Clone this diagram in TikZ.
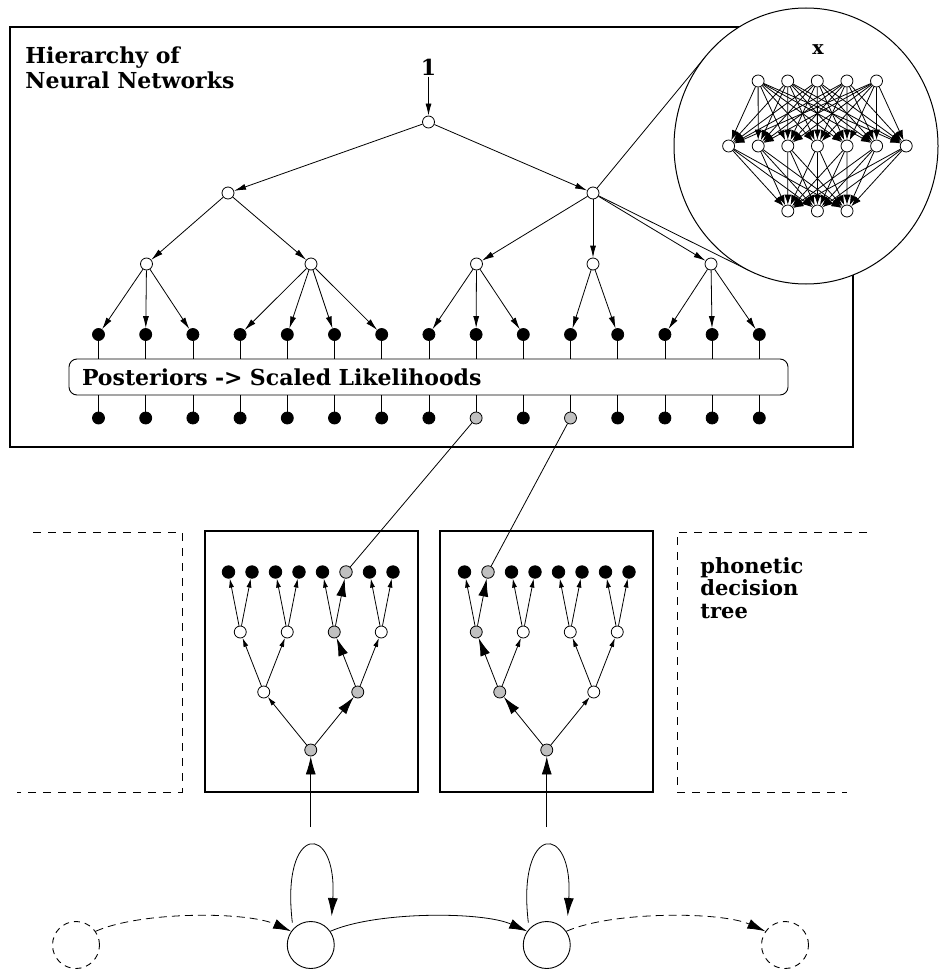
\documentclass[tikz,border=0pt]{standalone}
\usepackage{fontspec}
\setmainfont{DejaVu Serif}
\usetikzlibrary{arrows.meta,calc}
\definecolor{shade}{RGB}{192,192,192}
\begin{document}
\begin{tikzpicture}[x=1pt,y=-1pt,line width=0.8pt,
  every node/.style={font=\bfseries},
  nd/.style={circle,draw,line width=0.8pt,inner sep=0pt,minimum size=12pt,fill=white},
  arr/.style={-{Latex[length=12pt,width=6pt]}},
  sarr/.style={-{Latex[length=9pt,width=5pt]}},
  barr/.style={-{Latex[length=18pt,width=10pt]}},
  narr/.style={-{Latex[length=10pt,width=7pt]}},
  frame/.style={line width=1.1pt},
  dframe/.style={line width=1pt,dash pattern=on 8pt off 7pt},
  big/.style={font=\bfseries\fontsize{22}{25}\selectfont},
  mid/.style={font=\bfseries\fontsize{21}{22.5}\selectfont},
  st/.style={circle,draw,line width=0.9pt,inner sep=0pt,minimum size=47pt},
]
\useasboundingbox (0,0) rectangle (938,971);

% ---------- hierarchy of networks ----------
\draw[frame] (10,27) rectangle (853,447);
\node[big,anchor=north west,align=left,inner sep=0pt] (title) at (25,46)
  {Hierarchy of\\Neural Networks};

\node[big,inner sep=1pt] (one) at (428.5,67) {1};
\node[nd] (r)  at (428.5,122) {};
\node[nd] (a1) at (228,193) {};
\node[nd] (a2) at (593,193) {};
\node[nd] (b1) at (146.5,264) {};
\node[nd] (b2) at (311,264) {};
\node[nd] (b3) at (476.5,264) {};
\node[nd] (b4) at (593,264) {};
\node[nd] (b5) at (711,264) {};

\foreach \i/\c in {0/black,1/black,2/black,3/black,4/black,5/black,6/black,7/black,
                   8/shade,9/black,10/shade,11/black,12/black,13/black,14/black}{
  \node[nd,fill=black] (u\i) at ({98.5+47.2*\i},334.5) {};
  \node[nd,fill=\c]    (d\i) at ({98.5+47.2*\i},418) {};
}

\draw[arr] (one) -- (r);
\draw[arr] (r) -- (a1);
\draw[arr] (r) -- (a2);
\draw[arr] (a1) -- (b1);
\draw[arr] (a1) -- (b2);
\foreach \b in {b3,b4,b5} \draw[arr] (a2) -- (\b);
\foreach \i in {0,1,2} \draw[arr] (b1) -- (u\i);
\foreach \i in {3,4,5,6} \draw[arr] (b2) -- (u\i);
\foreach \i in {7,8,9} \draw[arr] (b3) -- (u\i);
\foreach \i in {10,11} \draw[arr] (b4) -- (u\i);
\foreach \i in {12,13,14} \draw[arr] (b5) -- (u\i);

\node[draw,line width=0.9pt,rounded corners=8pt,text width=693pt,inner xsep=13pt,
      inner ysep=0pt,minimum height=36pt,align=left,big] (post) at (428.5,377)
  {Posteriors -> Scaled Likelihoods};
\foreach \i in {0,...,14}{
  \draw (u\i) -- (u\i |- post.north);
  \draw (post.south -| d\i) -- (d\i);
}

% ---------- magnified network ----------
\coordinate (t1) at (706,56);
\coordinate (t2) at (749.4,270.7);
\draw (a2) -- (t1);
\draw (a2) -- (t2);
\draw[line width=1pt,fill=white] (806,146) ellipse [x radius=132, y radius=138];
\node[font=\bfseries\fontsize{19}{22}\selectfont,inner sep=0pt] (xin) at (818,50) {x};
\foreach \i in {1,...,5} \node[nd] (in\i) at ({728.5+29.6*\i},81) {};
\foreach \i in {1,...,7} \node[nd] (h\i)  at ({699+29.6*\i},146) {};
\foreach \i in {1,2,3}   \node[nd] (o\i)  at ({758.2+29.6*\i},211) {};
\foreach \i in {1,...,5}
  \foreach \j in {1,...,7} \draw[narr] (in\i) -- (h\j);
\foreach \i in {1,...,7}
  \foreach \j in {1,2,3} \draw[narr] (h\i) -- (o\j);

% ---------- phonetic decision trees ----------
\draw[frame] (205,531) rectangle (418,792);
\draw[frame] (440,531) rectangle (653,792);

\foreach \t/\ox/\gl/\gj/\gk in {P/0/5/2/1, Q/236/1/0/0}{
  \foreach \i in {0,...,7}{
    \ifnum\i=\gl \def\c{shade}\else\def\c{black}\fi
    \node[nd,minimum size=12.5pt,fill=\c] (\t l\i) at ({228.5+\ox+23.5*\i},572) {};
  }
  \foreach \j in {0,...,3}{
    \ifnum\j=\gj \def\c{shade}\else\def\c{white}\fi
    \node[nd,fill=\c] (\t j\j) at ({240.25+\ox+47*\j},632) {};
  }
  \foreach \k in {0,1}{
    \ifnum\k=\gk \def\c{shade}\else\def\c{white}\fi
    \node[nd,fill=\c] (\t k\k) at ({263.75+\ox+94*\k},692) {};
  }
  \node[nd,fill=shade] (\t r) at ({310.75+\ox},750) {};
  \coordinate (\t in) at ({310.75+\ox},827);
  \draw[barr] (\t in) -- (\t r);
}

% left tree: highlighted path root -> k1 -> j2 -> l5
\draw[sarr] (Pr) -- (Pk0);
\draw[barr] (Pr) -- (Pk1);
\draw[sarr] (Pk0) -- (Pj0);
\draw[sarr] (Pk0) -- (Pj1);
\draw[barr] (Pk1) -- (Pj2);
\draw[sarr] (Pk1) -- (Pj3);
\draw[sarr] (Pj0) -- (Pl0);
\draw[sarr] (Pj0) -- (Pl1);
\draw[sarr] (Pj1) -- (Pl2);
\draw[sarr] (Pj1) -- (Pl3);
\draw[sarr] (Pj2) -- (Pl4);
\draw[barr] (Pj2) -- (Pl5);
\draw[sarr] (Pj3) -- (Pl6);
\draw[sarr] (Pj3) -- (Pl7);

% right tree: highlighted path root -> k0 -> j0 -> l1
\draw[barr] (Qr) -- (Qk0);
\draw[sarr] (Qr) -- (Qk1);
\draw[barr] (Qk0) -- (Qj0);
\draw[sarr] (Qk0) -- (Qj1);
\draw[sarr] (Qk1) -- (Qj2);
\draw[sarr] (Qk1) -- (Qj3);
\draw[sarr] (Qj0) -- (Ql0);
\draw[barr] (Qj0) -- (Ql1);
\draw[sarr] (Qj1) -- (Ql2);
\draw[sarr] (Qj1) -- (Ql3);
\draw[sarr] (Qj2) -- (Ql4);
\draw[sarr] (Qj2) -- (Ql5);
\draw[sarr] (Qj3) -- (Ql6);
\draw[sarr] (Qj3) -- (Ql7);

% links from the selected outputs to the tree leaves
\draw (d8) -- (Pl5);
\draw (d10) -- (Ql1);

% neighbouring trees, only partly shown
\draw[dframe] (33,532) -- (182,532) -- (182,792) -- (17,792);
\draw[dframe] (867,532) -- (677,532) -- (677,792) -- (847,792);
\node[mid,anchor=north west,align=left,inner sep=0pt] (ph) at (700,557)
  {phonetic\\decision\\tree};

% ---------- HMM states ----------
\node[st,dash pattern=on 6pt off 5pt] (s0) at (76,945) {};
\node[st] (s1) at (310.75,945) {};
\node[st] (s2) at (546.75,945) {};
\node[st,dash pattern=on 6pt off 5pt] (s3) at (785,945) {};

\draw[barr] ([shift={(-3,-4)}]s1.130) .. controls +(-12,-100) and +(6,-95) .. ([shift={(4,-12)}]s1.45);
\draw[barr] ([shift={(-3,-4)}]s2.130) .. controls +(-12,-100) and +(6,-95) .. ([shift={(4,-12)}]s2.45);

\draw[dash pattern=on 8pt off 5pt,barr] (s0.35) .. controls +(45,-20) and +(-45,-20) .. (s1.145);
\draw[barr] (s1.35) .. controls +(45,-20) and +(-45,-20) .. (s2.145);
\draw[dash pattern=on 8pt off 5pt,barr] (s2.35) .. controls +(45,-20) and +(-45,-20) .. (s3.145);
\end{tikzpicture}
\end{document}
